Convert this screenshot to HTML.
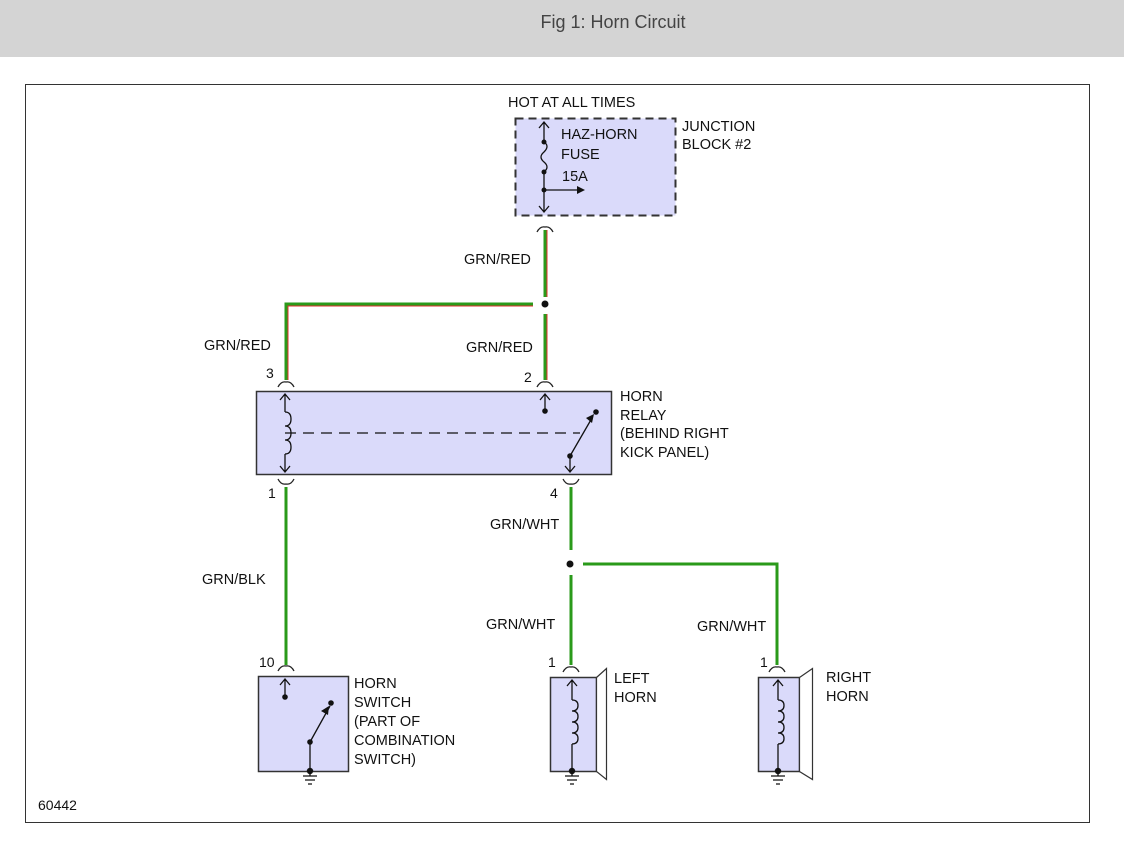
<!DOCTYPE html>
<html><head><style>
body{margin:0;background:#fff;width:1124px;height:836px;overflow:hidden;font-family:"Liberation Sans",sans-serif}
</style></head><body>
<svg width="1124" height="836" xmlns="http://www.w3.org/2000/svg" font-family="Liberation Sans, sans-serif">
<rect x="0" y="0" width="1124" height="57" fill="#d4d4d4"/>
<text x="613" y="28" font-size="18" fill="#444" text-anchor="middle">Fig 1: Horn Circuit</text>
<rect x="25.5" y="84.5" width="1064" height="738" fill="none" stroke="#333" stroke-width="1"/>

<!-- boxes -->
<rect x="515.5" y="118.5" width="160" height="97" fill="#dadafa" stroke="#333" stroke-width="2" stroke-dasharray="8,5"/>
<rect x="256.5" y="391.5" width="355" height="83" fill="#dadafa" stroke="#333" stroke-width="1.5"/>
<rect x="258.5" y="676.5" width="90" height="95" fill="#dadafa" stroke="#333" stroke-width="1.5"/>
<rect x="550.5" y="677.5" width="46" height="94" fill="#dadafa" stroke="#333" stroke-width="1.5"/>
<polygon points="596.5,677.5 606.5,668.5 606.5,779.5 596.5,771.5" fill="#fff" stroke="#333" stroke-width="1.2"/>
<rect x="758.5" y="677.5" width="41" height="94" fill="#dadafa" stroke="#333" stroke-width="1.5"/>
<polygon points="799.5,677.5 812.5,668.5 812.5,779.5 799.5,771.5" fill="#fff" stroke="#333" stroke-width="1.2"/>

<g font-size="14.5" fill="#111">
<text x="508" y="107">HOT AT ALL TIMES</text>
<text x="561" y="139">HAZ-HORN</text>
<text x="561" y="159">FUSE</text>
<text x="562" y="181">15A</text>
<text x="682" y="131">JUNCTION</text>
<text x="682" y="149">BLOCK #2</text>
<text x="464" y="264">GRN/RED</text>
<text x="204" y="350">GRN/RED</text>
<text x="466" y="352">GRN/RED</text>
<text x="620" y="401">HORN</text>
<text x="620" y="420">RELAY</text>
<text x="620" y="438">(BEHIND RIGHT</text>
<text x="620" y="457">KICK PANEL)</text>
<text x="490" y="529">GRN/WHT</text>
<text x="202" y="584">GRN/BLK</text>
<text x="486" y="629">GRN/WHT</text>
<text x="697" y="631">GRN/WHT</text>
<text x="354" y="688">HORN</text>
<text x="354" y="707">SWITCH</text>
<text x="354" y="726">(PART OF</text>
<text x="354" y="745">COMBINATION</text>
<text x="354" y="764">SWITCH)</text>
<text x="614" y="683">LEFT</text>
<text x="614" y="702">HORN</text>
<text x="826" y="682">RIGHT</text>
<text x="826" y="701">HORN</text>
<text x="38" y="810" font-size="14">60442</text>
</g>
<g font-size="14" fill="#111">
<text x="266" y="378">3</text>
<text x="524" y="382">2</text>
<text x="268" y="498">1</text>
<text x="550" y="498">4</text>
<text x="259" y="667">10</text>
<text x="548" y="667">1</text>
<text x="760" y="667">1</text>
</g>

<!-- wires -->
<g stroke-width="3" fill="none">
<path d="M545 230 V297" stroke="#2a9a1a"/><path d="M547 230 V297" stroke="#e03030" stroke-width="1"/>
<path d="M533 304 H286 V380" stroke="#2a9a1a"/><path d="M533 306 H288 V380" stroke="#e03030" stroke-width="1"/>
<path d="M545 314 V380" stroke="#2a9a1a"/><path d="M547 314 V380" stroke="#e03030" stroke-width="1"/>
<path d="M286 487 V665" stroke="#2a9a1a"/>
<path d="M571 487 V550 M571 575 V665 M583 564 H777 V665" stroke="#2a9a1a"/>
</g>
<circle cx="545" cy="304" r="3.5" fill="#111"/>
<circle cx="570" cy="564" r="3.5" fill="#111"/>

<!-- connector cups -->
<g stroke="#222" stroke-width="1.3" fill="none">
<path d="M537 232 q3 -6 8 -5 q5 -1 8 5"/>
<path d="M278 387 q3 -6 8 -5 q5 -1 8 5"/>
<path d="M537 387 q3 -6 8 -5 q5 -1 8 5"/>
<path d="M278 479 q3 6 8 5 q5 1 8 -5"/>
<path d="M563 479 q3 6 8 5 q5 1 8 -5"/>
<path d="M278 671 q3 -6 8 -5 q5 -1 8 5"/>
<path d="M563 672 q3 -6 8 -5 q5 -1 8 5"/>
<path d="M769 672 q3 -6 8 -5 q5 -1 8 5"/>
</g>

<!-- internals -->
<g stroke="#111" stroke-width="1.3" fill="none">
<path d="M544 122 V142 M544 172 V212 M539 128 L544 122 L549 128 M539 206 L544 212 L549 206"/>
<path d="M544 142 q6 4 0 10 q-6 5 0 10 q6 5 0 10"/>
<path d="M544 190 H578"/>
<path d="M285 394 V412 M285 454 V472 M280 400 L285 394 L290 400 M280 466 L285 472 L290 466"/>
<path d="M285 412 q6 0 6 7 q0 7 -6 7 q6 0 6 7 q0 7 -6 7 q6 0 6 7 q0 7 -6 7"/>
<path d="M285 433 H580" stroke-dasharray="11,7"/>
<path d="M545 394 V411 M540 400 L545 394 L550 400"/>
<path d="M570 456 V472 M565 466 L570 472 L575 466 M570 456 L592 418"/>
<path d="M285 679 V697 M280 685 L285 679 L290 685"/>
<path d="M310 742 V771 M310 742 L330 706"/>
<path d="M572 680 V700 M567 686 L572 680 L577 686 M572 744 V771"/>
<path d="M572 700 q6 0 6 5.5 q0 5.5 -6 5.5 q6 0 6 5.5 q0 5.5 -6 5.5 q6 0 6 5.5 q0 5.5 -6 5.5 q6 0 6 5.5 q0 5.5 -6 5.5"/>
<path d="M778 680 V700 M773 686 L778 680 L783 686 M778 744 V771"/>
<path d="M778 700 q6 0 6 5.5 q0 5.5 -6 5.5 q6 0 6 5.5 q0 5.5 -6 5.5 q6 0 6 5.5 q0 5.5 -6 5.5 q6 0 6 5.5 q0 5.5 -6 5.5"/>
<path d="M310 771 V776 M303 776 H317 M305 780 H315 M308 784 H312"/>
<path d="M572 771 V776 M565 776 H579 M567 780 H577 M570 784 H574"/>
<path d="M778 771 V776 M771 776 H785 M773 780 H783 M776 784 H780"/>
</g>
<g fill="#111">
<polygon points="585,190 577,186 577,194"/>
<circle cx="544" cy="142" r="2.5"/><circle cx="544" cy="172" r="2.5"/><circle cx="544" cy="190" r="2.5"/>
<circle cx="545" cy="411" r="2.8"/><circle cx="570" cy="456" r="2.8"/><circle cx="596" cy="412" r="2.8"/>
<polygon points="594,414 586,418 592,423"/>
<circle cx="285" cy="697" r="2.8"/><circle cx="310" cy="742" r="2.8"/><circle cx="331" cy="703" r="2.8"/>
<polygon points="329,706 321,711 328,715"/>
<circle cx="310" cy="771" r="3.2"/><circle cx="572" cy="771" r="3.2"/><circle cx="778" cy="771" r="3.2"/>
</g>
</svg>
</body></html>
